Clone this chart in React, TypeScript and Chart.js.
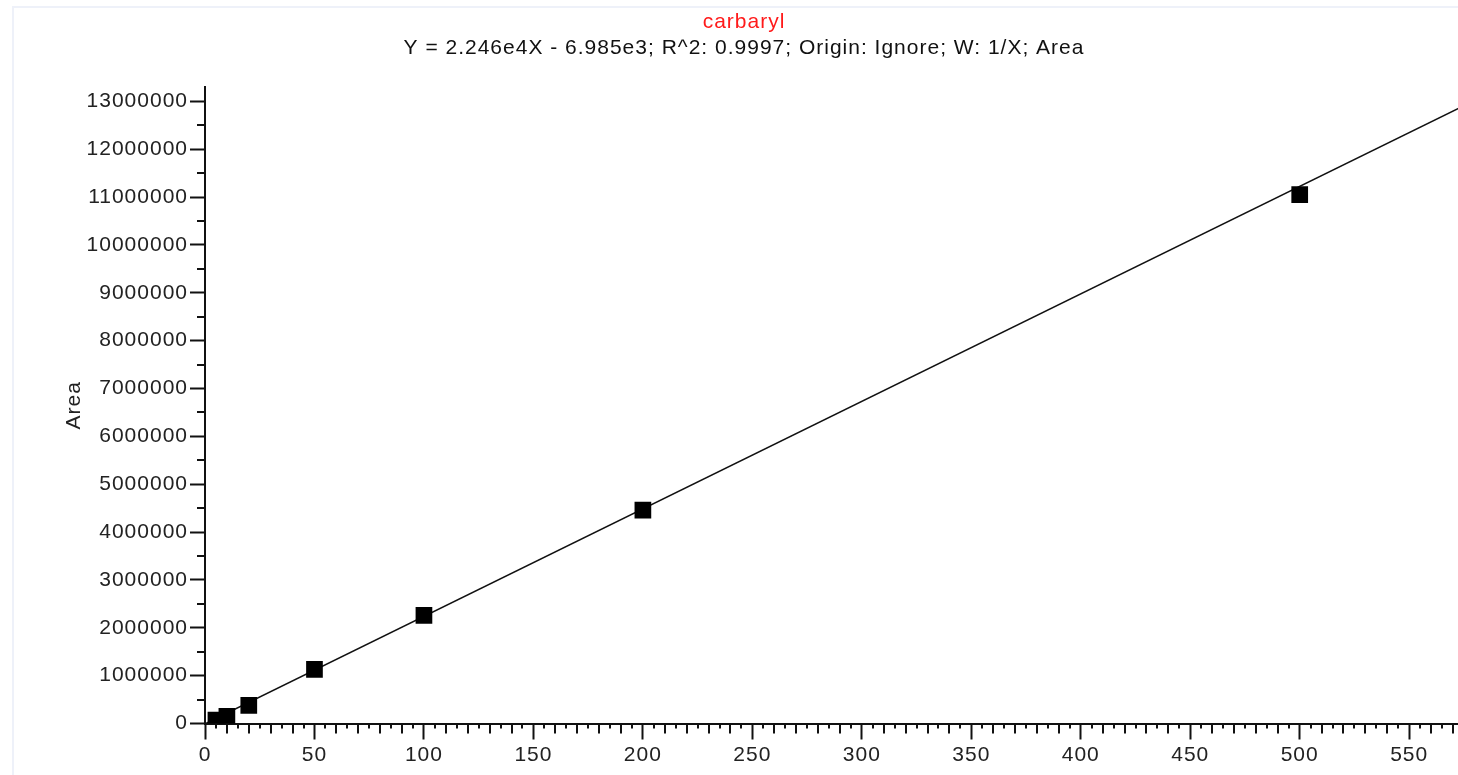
import React, { useEffect, useRef } from 'react';
import { Chart, registerables } from 'chart.js';

Chart.register(...registerables);

// Calibration points (concentration vs area)
const pointX = [5, 10, 20, 50, 100, 200, 500];
const pointY = [70000, 150000, 380000, 1130000, 2260000, 4460000, 11050000];

// Fitted line end points (Y = 2.246e4X - 6.985e3)
const fitX = [0, 586];
const fitY = [-6985, 13154575];

// Axis tick values
const yTickValues = [
  0, 1000000, 2000000, 3000000, 4000000, 5000000, 6000000, 7000000, 8000000, 9000000, 10000000,
  11000000, 12000000, 13000000,
];

const titleText = 'carbaryl';
const subtitleText = 'Y = 2.246e4X - 6.985e3; R^2: 0.9997; Origin: Ignore; W: 1/X; Area';
const yTitleText = 'Area';

const xMin = 0;
const xMax = 586;
const xStep = 50;
const yMin = 0;
const yMax = 13300000;

const FONT = "'Liberation Sans', Arial, Helvetica, sans-serif";
const INK = '#111';
const TEXT = '#222';

const spacing = {
  id: 'spacing',
  beforeUpdate(chart: any) {
    chart.ctx.letterSpacing = '1px';
  },
  beforeDraw(chart: any) {
    chart.ctx.letterSpacing = '1px';
  },
};

const minorTicks = {
  id: 'minorTicks',
  afterDraw(chart: any) {
    const { ctx, chartArea, scales } = chart;
    const x = scales.x;
    const y = scales.y;
    ctx.save();
    ctx.strokeStyle = INK;
    ctx.lineWidth = 2;
    ctx.beginPath();
    for (let v = 5; v <= x.max; v += 5) {
      if (v % 50 === 0) continue;
      const px = Math.round(x.getPixelForValue(v));
      const len = v % 10 === 0 ? 10 : 5;
      ctx.moveTo(px, chartArea.bottom);
      ctx.lineTo(px, chartArea.bottom + len);
    }
    for (let v = 500000; v <= y.max; v += 1000000) {
      const py = Math.round(y.getPixelForValue(v));
      ctx.moveTo(chartArea.left - 8, py);
      ctx.lineTo(chartArea.left, py);
    }
    ctx.stroke();
    ctx.restore();
  },
};

export default function App() {
  const ref = useRef<HTMLCanvasElement | null>(null);

  useEffect(() => {
    if (!ref.current) return;
    const chart = new Chart(ref.current, {
      type: 'scatter',
      data: {
        datasets: [
          {
            type: 'scatter',
            data: pointX.map((x, i) => ({ x, y: pointY[i] })),
            pointStyle: 'rect',
            pointRadius: 11.8,
            pointBackgroundColor: '#000',
            pointBorderWidth: 0,
            showLine: false,
            clip: 0,
            order: 0,
          } as any,
          {
            type: 'line',
            data: fitX.map((x, i) => ({ x, y: fitY[i] })),
            borderColor: INK,
            borderWidth: 1.6,
            pointRadius: 0,
            tension: 0,
            clip: 0,
            order: 1,
          } as any,
        ],
      },
      options: {
        responsive: false,
        animation: false,
        events: [],
        layout: { padding: 0, autoPadding: false },
        plugins: {
          legend: { display: false },
          tooltip: { enabled: false },
          title: {
            display: true,
            text: titleText,
            color: '#ff1a1a',
            font: { family: FONT, size: 21, weight: 'normal' },
            padding: { top: 10, bottom: 0 },
          },
          subtitle: {
            display: true,
            text: subtitleText,
            color: INK,
            font: { family: FONT, size: 21, weight: 'normal' },
            padding: { top: 0, bottom: 26.6 },
          },
        },
        scales: {
          x: {
            type: 'linear',
            min: xMin,
            max: xMax,
            afterFit: (s: any) => {
              s.height = 51.5;
              s.paddingLeft = 0;
              s.paddingRight = 0;
            },
            ticks: {
              stepSize: xStep,
              includeBounds: false,
              autoSkip: false,
              maxTicksLimit: 100,
              maxRotation: 0,
              padding: 3,
              color: TEXT,
              font: { family: FONT, size: 21 },
              callback: (v: any) => String(v),
            },
            grid: {
              drawOnChartArea: false,
              drawTicks: true,
              tickLength: 16,
              tickWidth: 2,
              tickColor: INK,
            },
            border: { display: true, color: INK, width: 2 },
          },
          y: {
            type: 'linear',
            min: yMin,
            max: yMax,
            afterBuildTicks: (s: any) => {
              s.ticks = yTickValues.map((value) => ({ value }));
            },
            afterFit: (s: any) => {
              s.width = 205;
            },
            ticks: {
              autoSkip: false,
              padding: 2,
              color: TEXT,
              font: { family: FONT, size: 21 },
              callback: (v: any) => String(v),
            },
            grid: {
              drawOnChartArea: false,
              drawTicks: true,
              tickLength: 15,
              tickWidth: 2,
              tickColor: INK,
            },
            border: { display: true, color: INK, width: 2 },
            title: {
              display: true,
              text: yTitleText,
              color: TEXT,
              font: { family: FONT, size: 21 },
              padding: { top: 62, bottom: 0 },
            },
          },
        },
      } as any,
      plugins: [spacing, minorTicks],
    });
    return () => chart.destroy();
  }, []);

  return (
    <div
      style={{
        position: 'absolute',
        left: 0,
        top: 0,
        width: 1458,
        height: 775,
        overflow: 'hidden',
        background: '#fff',
      }}
    >
      <div
        style={{
          position: 'absolute',
          left: 12,
          top: 6,
          width: 1600,
          height: 900,
          borderTop: '2px solid #eef1f9',
          borderLeft: '2px solid #eef1f9',
        }}
      />
      <canvas
        ref={ref}
        width={1488}
        height={775}
        style={{ position: 'absolute', left: 0, top: 0, display: 'block' }}
      />
    </div>
  );
}
